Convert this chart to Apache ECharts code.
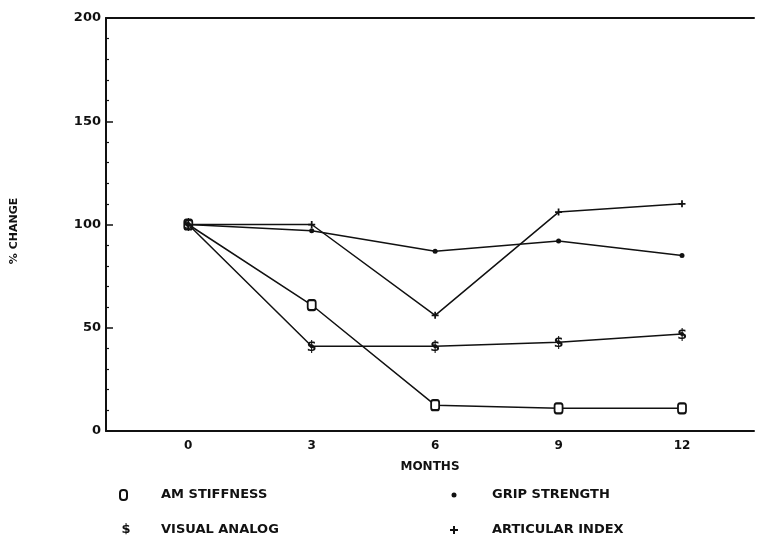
<!DOCTYPE html>
<html>
<head>
<meta charset="utf-8">
<script src="https://cdn.jsdelivr.net/npm/echarts@6/dist/echarts.min.js"></script>
<style>
html,body{margin:0;padding:0;background:#fff;}
#chart{width:757px;height:540px;}
</style>
</head>
<body>
<div id="chart"></div>
<script>
var months = [0, 3, 6, 9, 12];
var amStiffness = [100, 61, 12.5, 11, 11];
var visualAnalog = [100, 41, 41, 43, 47];
var gripStrength = [100, 97, 87, 92, 85];
var articularIndex = [100, 100, 56, 106, 110];
var xTickLabels = ['0', '3', '6', '9', '12'];
var yTickLabels = ['0', '50', '100', '150', '200'];
var legendNames = ['AM STIFFNESS', 'VISUAL ANALOG', 'GRIP STRENGTH', 'ARTICULAR INDEX'];
var xAxisTitle = 'MONTHS';
var yAxisTitle = '% CHANGE';

var FONT = 'DejaVu Sans';
var INK = '#111';

function pairs(vals) {
  return months.map(function (m, i) { return [m, vals[i]]; });
}

var plusPath = 'path://M3,0h2v3h3v2h-3v3h-2v-3h-3v-2h3z';

function plusPoints(cx, cy, a, t) {
  return [[cx - t, cy - a], [cx + t, cy - a], [cx + t, cy - t], [cx + a, cy - t], [cx + a, cy + t],
    [cx + t, cy + t], [cx + t, cy + a], [cx - t, cy + a], [cx - t, cy + t], [cx - a, cy + t],
    [cx - a, cy - t], [cx - t, cy - t]];
}

var chart = echarts.init(document.getElementById('chart'), null, {renderer: 'canvas'});

var option = {
  backgroundColor: '#fff',
  animation: false,
  grid: {left: 106, top: 18, width: 651, height: 413},
  xAxis: [{
    type: 'value', min: -2, max: 13.75, interval: 1,
    axisLine: {show: true, onZero: false, lineStyle: {color: INK, width: 2}},
    axisTick: {show: false},
    splitLine: {show: false},
    axisLabel: {
      margin: 9, color: INK, fontFamily: FONT, fontWeight: 'bold', fontSize: 12,
      formatter: function (v) {
        var i = months.indexOf(v);
        return i >= 0 ? xTickLabels[i] : '';
      }
    },
    name: xAxisTitle, nameLocation: 'middle', nameGap: 30,
    nameTextStyle: {color: INK, fontFamily: FONT, fontWeight: 'bold', fontSize: 12}
  }, {
    type: 'value', position: 'top', min: -2, max: 13.75,
    axisLine: {show: true, onZero: false, lineStyle: {color: INK, width: 2}},
    axisTick: {show: false}, axisLabel: {show: false}, splitLine: {show: false}
  }],
  yAxis: {
    type: 'value', min: 0, max: 200, interval: 50,
    axisLine: {show: true, onZero: false, lineStyle: {color: INK, width: 2}},
    axisTick: {show: true, inside: true, length: 7, lineStyle: {color: INK, width: 1.5}},
    minorTick: {show: true, splitNumber: 5, length: 3, lineStyle: {color: INK, width: 1.2}},
    splitLine: {show: false},
    axisLabel: {
      margin: 5, color: INK, fontFamily: FONT, fontWeight: 'bold', fontSize: 13,
      formatter: function (v) { return yTickLabels[v / 50]; }
    }
  },
  series: [{
    name: legendNames[0], type: 'line', data: pairs(amStiffness),
    symbol: 'emptyRoundRect', symbolSize: [8, 10],
    itemStyle: {color: INK, borderWidth: 1.6},
    lineStyle: {color: INK, width: 1.5}
  }, {
    name: legendNames[1], type: 'line', data: pairs(visualAnalog),
    symbol: 'circle', symbolSize: 4,
    itemStyle: {color: INK},
    lineStyle: {color: INK, width: 1.5},
    label: {show: true, position: 'top', offset: [0, 15], formatter: '$', color: INK,
      fontFamily: FONT, fontWeight: 'bold', fontSize: 14}
  }, {
    name: legendNames[2], type: 'line', data: pairs(gripStrength),
    symbol: 'circle', symbolSize: 5,
    itemStyle: {color: INK},
    lineStyle: {color: INK, width: 1.5}
  }, {
    name: legendNames[3], type: 'line', data: pairs(articularIndex),
    symbol: plusPath, symbolSize: 7,
    itemStyle: {color: INK},
    lineStyle: {color: INK, width: 1.5}
  }],
  graphic: [
    {type: 'text', x: 14, y: 231, rotation: Math.PI / 2,
      style: {text: yAxisTitle, fill: INK, font: 'bold 11px "DejaVu Sans"', align: 'center', verticalAlign: 'middle'}},
    {type: 'rect', shape: {x: 120, y: 490, width: 7, height: 10, r: 3}, style: {fill: '#fff', stroke: INK, lineWidth: 2}},
    {type: 'text', x: 161, y: 495, style: {text: legendNames[0], fill: INK, font: 'bold 13px "DejaVu Sans"', verticalAlign: 'middle'}},
    {type: 'text', x: 126, y: 530, style: {text: '$', fill: INK, font: 'bold 13px "DejaVu Sans"', align: 'center', verticalAlign: 'middle'}},
    {type: 'text', x: 161, y: 530, style: {text: legendNames[1], fill: INK, font: 'bold 13px "DejaVu Sans"', verticalAlign: 'middle'}},
    {type: 'circle', shape: {cx: 454, cy: 495, r: 2.5}, style: {fill: INK}},
    {type: 'text', x: 492, y: 495, style: {text: legendNames[2], fill: INK, font: 'bold 13px "DejaVu Sans"', verticalAlign: 'middle'}},
    {type: 'polygon', shape: {points: plusPoints(454, 530, 4, 1)}, style: {fill: INK}},
    {type: 'text', x: 492, y: 530, style: {text: legendNames[3], fill: INK, font: 'bold 13px "DejaVu Sans"', verticalAlign: 'middle'}}
  ]
};
chart.setOption(option);
</script>
</body>
</html>
